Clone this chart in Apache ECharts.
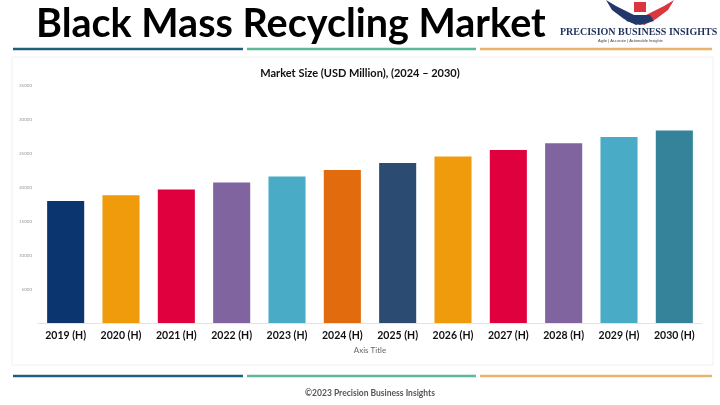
<!DOCTYPE html>
<html>
<head>
<meta charset="utf-8">
<script src="https://cdn.jsdelivr.net/npm/echarts@6/dist/echarts.min.js"></script>
<style>
html,body{margin:0;padding:0;background:#fff;}
#chart{width:720px;height:405px;}
</style>
</head>
<body>
<div id="chart"></div>
<script>
const categories = ['2019 (H)','2020 (H)','2021 (H)','2022 (H)','2023 (H)','2024 (H)','2025 (H)','2026 (H)','2027 (H)','2028 (H)','2029 (H)','2030 (H)'];
const marketSize = [18000, 18880, 19720, 20750, 21640, 22610, 23640, 24590, 25560, 26550, 27480, 28420];
const barColors = ['#0b356f','#f09b0c','#e0003d','#7f64a0','#4aabc6','#e26b0d','#2c4b72','#f09b0c','#e0003d','#7f64a0','#4aabc6','#35839a'];
const yTicks = [5000, 10000, 15000, 20000, 25000, 30000, 35000];

const chart = echarts.init(document.getElementById('chart'), null, {renderer:'canvas'});
const F = 'Lato, "Noto Sans", sans-serif';

chart.setOption({
  backgroundColor:'#ffffff',
  animation:false,
  title:[
    {text:'Black Mass Recycling Market', left:36, top:4, padding:0,
     textStyle:{fontFamily:F, fontWeight:'bold', fontSize:39.5, color:'#000'}},
    {text:'Market Size (USD Million), (2024 – 2030)', left:'center', top:63,
     textStyle:{fontFamily:F, fontWeight:'bold', fontSize:11, color:'#111'}},
    {text:'©2023 Precision Business Insights', left:365, textAlign:'center', top:384,
     textStyle:{fontFamily:F, fontWeight:'bold', fontSize:8.5, color:'#555'}}
  ],
  grid:{left:38, right:18, top:86, bottom:82},
  xAxis:{
    type:'category', data:categories, name:'Axis Title', nameLocation:'middle', nameGap:23,
    nameTextStyle:{fontFamily:F, fontSize:8, color:'#666'},
    axisLine:{lineStyle:{color:'#e3e3e3'}}, axisTick:{show:false},
    axisLabel:{fontFamily:F, fontWeight:'bold', fontSize:10.5, color:'#111', margin:7}
  },
  yAxis:{
    type:'value', min:0, max:35000, interval:5000,
    axisLine:{show:false}, axisTick:{show:false}, splitLine:{show:false},
    axisLabel:{fontFamily:F, fontSize:4.5, color:'#999', margin:6,
      formatter:v=> v===0 ? '' : (yTicks.indexOf(v)>=0 ? String(v) : '')}
  },
  series:[{
    type:'bar', barWidth:'67%',
    data: marketSize.map((v,i)=>({value:v, itemStyle:{color:barColors[i]}}))
  }],
  graphic:[
    {type:'rect', shape:{x:12,y:57,width:701,height:308}, style:{fill:'none', stroke:'#f0f0f0', lineWidth:1}, z:-1},
    {type:'line', shape:{x1:13,y1:49,x2:243,y2:49}, style:{stroke:'#1f5f7e', lineWidth:2.5}},
    {type:'line', shape:{x1:247,y1:49,x2:476,y2:49}, style:{stroke:'#5cb898', lineWidth:2.5}},
    {type:'line', shape:{x1:480,y1:49,x2:712,y2:49}, style:{stroke:'#e9b46a', lineWidth:2.5}},
    {type:'line', shape:{x1:13,y1:376,x2:243,y2:376}, style:{stroke:'#1f5f7e', lineWidth:2.5}},
    {type:'line', shape:{x1:247,y1:376,x2:476,y2:376}, style:{stroke:'#5cb898', lineWidth:2.5}},
    {type:'line', shape:{x1:480,y1:376,x2:712,y2:376}, style:{stroke:'#e9b46a', lineWidth:2.5}},
    // logo
    {type:'polygon', shape:{points:[[606,0],[616,6],[628,12],[638,17],[644,22],[636,25],[624,19],[612,10]]}, style:{fill:'#23386a'}},
    {type:'polygon', shape:{points:[[674,0],[664,6],[652,12],[642,17],[636,22],[644,25],[656,19],[668,10]]}, style:{fill:'#d9363e'}},
    {type:'polygon', shape:{points:[[630,15],[650,15],[654,21],[640,25],[626,21]]}, style:{fill:'#23386a'}},
    {type:'polygon', shape:{points:[[634,2],[646,2],[646,12],[634,12]]}, style:{fill:'#d9363e'}},
    {type:'text', left:560, top:27, style:{text:'PRECISION BUSINESS INSIGHTS', font:'bold 10px "Liberation Serif", serif', fill:'#1e2f5a'}},
    {type:'text', left:598, top:39, style:{text:'Agile | Accurate | Actionable Insights', font:'4px sans-serif', fill:'#444'}}
  ]
});
</script>
</body>
</html>
